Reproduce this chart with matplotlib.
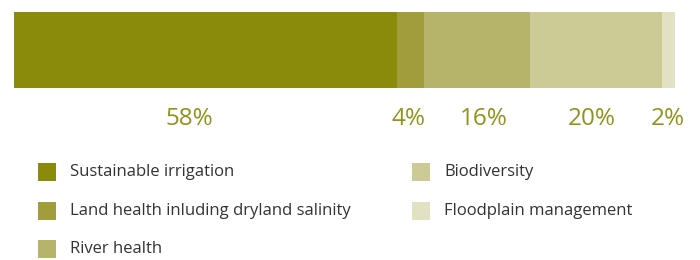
import matplotlib.pyplot as plt
from matplotlib.patches import Rectangle
import numpy as np

# spending share by program
categories = ['Sustainable irrigation', 'Land health inluding dryland salinity',
              'River health', 'Biodiversity', 'Floodplain management']
shares = [58, 4, 16, 20, 2]
colors = ['#8a8b0a', '#a19d3d', '#b5b46a', '#cdcb95', '#e2e1c3']

# small hand nudges of the % labels, in pixels
nudge = [-16, -2, 7, -4, -1]

plt.rcParams['font.family'] = ['Open Sans', 'DejaVu Sans']

W, H = 700, 260
fig = plt.figure(figsize=(W / 100, H / 100), dpi=100)

# bar axes, placed in pixel terms
ax = fig.add_axes([14 / W, 1 - 88 / H, 661 / W, 76 / H])
left = np.concatenate([[0], np.cumsum(shares)[:-1]])
ax.barh([0] * len(shares), shares, left=left, color=colors, height=1.0)
ax.set_xlim(0, sum(shares))
ax.set_ylim(-0.5, 0.5)
ax.axis('off')

# percentage labels under the bar
px = sum(shares) / 661
for l, s, d in zip(left, shares, nudge):
    ax.text(l + s / 2 + d * px, -0.5 - 31 / 76, '{}%'.format(s), ha='center',
            va='center', fontsize=17.5, color='#909319', clip_on=False)

# legend, two columns
rows = [172, 211, 249]
cols = [38, 412]
for i, (name, c) in enumerate(zip(categories, colors)):
    x = cols[i // 3]
    y = rows[i % 3]
    fig.add_artist(Rectangle((x / W, 1 - (y + 9) / H), 18 / W, 18 / H,
                             transform=fig.transFigure, color=c, lw=0))
    fig.text((x + 32) / W, 1 - y / H, name, ha='left', va='center',
             fontsize=12, color='#333333')

fig.savefig('out.png', dpi=100)
